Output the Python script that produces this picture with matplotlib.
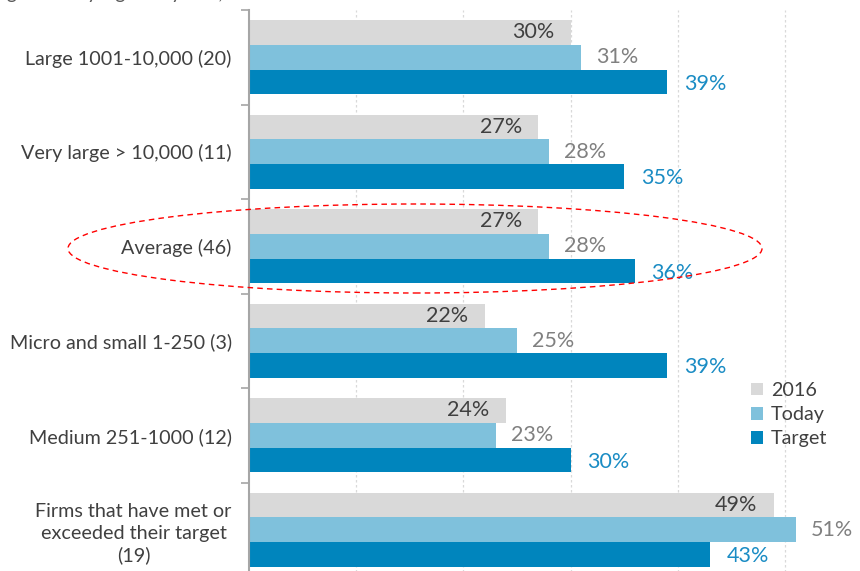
import matplotlib
matplotlib.use("Agg")
import matplotlib.pyplot as plt
import numpy as np
from matplotlib.patches import Ellipse

categories = ["Large 1001-10,000 (20)", "Very large > 10,000 (11)", "Average (46)",
              "Micro and small 1-250 (3)", "Medium 251-1000 (12)",
              "Firms that have met or\nexceeded their target\n(19)"]
series_names = ["2016", "Today", "Target"]
v2016 = [30, 27, 27, 22, 24, 49]
vtoday = [31, 28, 28, 25, 23, 51]
vtarget = [39, 35, 36, 39, 30, 43]

plt.rcParams['font.family'] = ['Lato', 'DejaVu Sans']

W, H = 860, 571
fig = plt.figure(figsize=(W / 100, H / 100), dpi=100)
ax_left, ax_right, ax_top, ax_bot = 249, 860, 10, 577
ax = fig.add_axes([ax_left / W, 1 - ax_bot / H, (ax_right - ax_left) / W, (ax_bot - ax_top) / H])

c2016, ctoday, ctarget = "#d9d9d9", "#7fc1dc", "#0085bd"
t2016, ttoday, ttarget = "#404040", "#808080", "#1a8cc4"

y = np.arange(len(categories))
h = 0.262
b1 = ax.barh(y - h, v2016, height=h, color=c2016, label=series_names[0], zorder=2)
b2 = ax.barh(y, vtoday, height=h, color=ctoday, label=series_names[1], zorder=2)
b3 = ax.barh(y + h, vtarget, height=h, color=ctarget, label=series_names[2], zorder=2)

fs = 15.5
for yi, v in zip(y - h, v2016):
    ax.annotate(f"{v}%", xy=(v, yi), xytext=(-12, 0), textcoords="offset points",
                ha="right", va="center", fontsize=fs, color=t2016, zorder=3)
for yi, v in zip(y, vtoday):
    ax.annotate(f"{v}%", xy=(v, yi), xytext=(11, 0), textcoords="offset points",
                ha="left", va="center", fontsize=fs, color=ttoday, zorder=3)
for yi, v in zip(y + h, vtarget):
    ax.annotate(f"{v}%", xy=(v, yi + 0.02), xytext=(12, 0), textcoords="offset points",
                ha="left", va="center", fontsize=fs, color=ttarget, zorder=3)

ax.set_xlim(0, 57)
ax.set_ylim(len(categories) - 0.5, -0.5)
ax.set_xticks([10, 20, 30, 40, 50])
ax.xaxis.grid(True, color="#d9d9d9", linestyle=(0, (2, 2)), linewidth=0.9, zorder=1)
ax.set_axisbelow(True)
ax.tick_params(axis="x", length=0, labelbottom=False)

ax.set_yticks(y)
ax.set_yticklabels(categories, fontsize=14.2, color="#404040", linespacing=1.34,
                   multialignment="center")
ax.set_yticks(np.arange(-0.5, len(categories) + 0.5, 1), minor=True)
ax.tick_params(axis="y", which="major", length=0, pad=12.5)
ax.tick_params(axis="y", which="minor", length=6, color="#a6a6a6", width=1.2)

for s in ["top", "right", "bottom"]:
    ax.spines[s].set_visible(False)
ax.spines["left"].set_color("#a6a6a6")
ax.spines["left"].set_linewidth(1.5)

leg = ax.legend(handles=[b1, b2, b3], loc="upper left",
                bbox_to_anchor=(751 / W, 1 - 382 / H), bbox_transform=fig.transFigure,
                frameon=False, fontsize=14.2, handlelength=0.62, handleheight=0.62,
                handletextpad=0.4, labelspacing=0.36, borderpad=0, borderaxespad=0)
for t in leg.get_texts():
    t.set_color("#404040")

ell = Ellipse((415 / W, 1 - 248.5 / H), 694 / W, 89 / H, transform=fig.transFigure,
              fill=False, edgecolor="#ff0000", linestyle=(0, (4, 3)), linewidth=1.0, zorder=5)
fig.add_artist(ell)

fig.text(243 / W, 1 + 0.5 / H, "Female senior management by signatory size, %",
         ha="right", va="baseline", fontsize=14, color="#595959")

fig.savefig("out.png", dpi=100)
